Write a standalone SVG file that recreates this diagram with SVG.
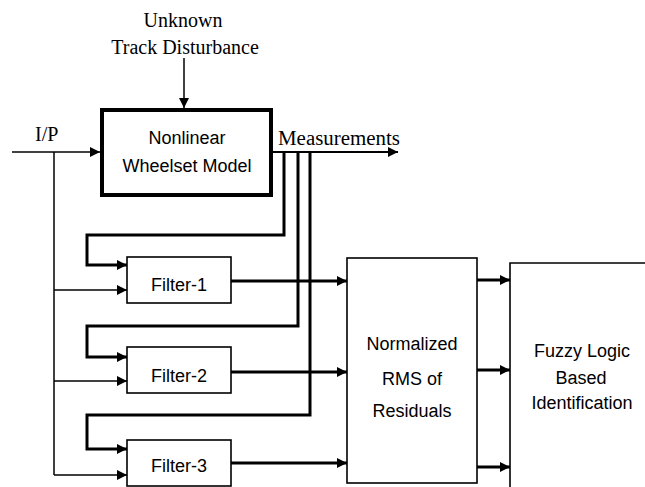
<svg xmlns="http://www.w3.org/2000/svg" width="645" height="487" viewBox="0 0 645 487">
<style>
.serif{font-family:"Liberation Serif","Times New Roman",serif;font-size:20px;fill:#000}
.sans{font-family:"Liberation Sans",Arial,sans-serif;font-size:18px;fill:#000}
.box{fill:#fff;stroke:#000;stroke-width:1.6}
.thick{fill:none;stroke:#000;stroke-width:3}
.med{fill:none;stroke:#000;stroke-width:2}
.thin{fill:none;stroke:#000;stroke-width:1.5}
</style>
<defs>
<marker id="ah" markerUnits="userSpaceOnUse" markerWidth="11" markerHeight="11" refX="10" refY="5" orient="auto">
<path d="M0,0 L10,5 L0,10 z" fill="#000"/>
</marker>
</defs>
<rect width="645" height="487" fill="#fff"/>
<g id="connectors">
<line class="thin" x1="184" y1="58" x2="184" y2="108" marker-end="url(#ah)"/>
<line class="thin" x1="12" y1="152" x2="100" y2="152" marker-end="url(#ah)"/>
<line class="thin" x1="54" y1="152" x2="54" y2="475"/>
<line class="thin" x1="54" y1="290" x2="127" y2="290" marker-end="url(#ah)"/>
<line class="thin" x1="54" y1="381" x2="127" y2="381" marker-end="url(#ah)"/>
<line class="thin" x1="54" y1="475" x2="127" y2="475" marker-end="url(#ah)"/>
<line class="med" x1="273" y1="152" x2="398" y2="152" marker-end="url(#ah)"/>
<path class="thick" d="M284,152 V235 H87 V265 H127" marker-end="url(#ah)"/>
<path class="thick" d="M298,152 V326 H87 V357 H127" marker-end="url(#ah)"/>
<path class="thick" d="M310,152 V415 H87 V449 H127" marker-end="url(#ah)"/>
<line class="thick" x1="231" y1="281" x2="347" y2="281" marker-end="url(#ah)"/>
<line class="thick" x1="231" y1="372" x2="347" y2="372" marker-end="url(#ah)"/>
<line class="thick" x1="231" y1="463" x2="347" y2="463" marker-end="url(#ah)"/>
<line class="thick" x1="477" y1="280" x2="510" y2="280" marker-end="url(#ah)"/>
<line class="thick" x1="477" y1="370" x2="510" y2="370" marker-end="url(#ah)"/>
<line class="thick" x1="477" y1="467" x2="510" y2="467" marker-end="url(#ah)"/>
</g>
<g id="disturbance">
<text class="serif" x="183" y="27" text-anchor="middle">Unknown</text>
<text class="serif" x="185" y="54" text-anchor="middle">Track Disturbance</text>
</g>
<g id="input-label">
<text class="serif" x="35" y="141">I/P</text>
</g>
<g id="measurements-label">
<text class="serif" x="278" y="145" textLength="122" lengthAdjust="spacingAndGlyphs">Measurements</text>
</g>
<g id="model">
<rect x="102" y="110" width="169" height="85" fill="#fff" stroke="#000" stroke-width="4"/>
<text class="sans" x="187" y="144" text-anchor="middle" font-size="17">Nonlinear</text>
<text class="sans" x="187" y="172" text-anchor="middle" font-size="17">Wheelset Model</text>
</g>
<g id="filter1">
<rect class="box" x="127" y="257" width="104" height="46"/>
<text class="sans" x="179" y="291" text-anchor="middle">Filter-1</text>
</g>
<g id="filter2">
<rect class="box" x="127" y="347" width="104" height="46"/>
<text class="sans" x="179" y="382" text-anchor="middle">Filter-2</text>
</g>
<g id="filter3">
<rect class="box" x="127" y="440" width="104" height="46"/>
<text class="sans" x="179" y="472" text-anchor="middle">Filter-3</text>
</g>
<g id="normalized">
<rect class="box" x="347" y="258" width="130" height="225"/>
<text class="sans" x="412" y="350" text-anchor="middle">Normalized</text>
<text class="sans" x="412" y="385" text-anchor="middle">RMS of</text>
<text class="sans" x="412" y="417" text-anchor="middle">Residuals</text>
</g>
<g id="fuzzy">
<path d="M650,263 H510 V492" fill="none" stroke="#000" stroke-width="1.6"/>
<text class="sans" x="582" y="357" text-anchor="middle">Fuzzy Logic</text>
<text class="sans" x="581" y="384" text-anchor="middle">Based</text>
<text class="sans" x="582" y="409" text-anchor="middle">Identification</text>
</g>
</svg>
